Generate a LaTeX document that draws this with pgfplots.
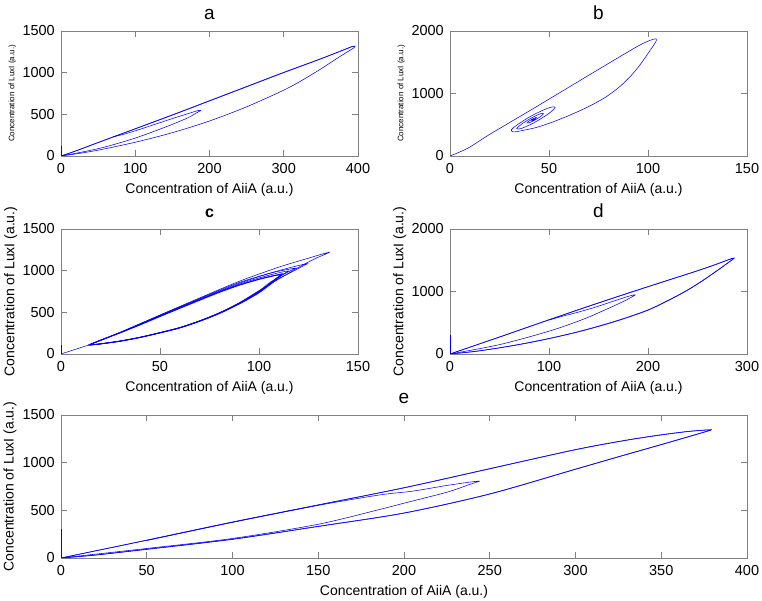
\documentclass[border=0pt]{standalone}
\usepackage{fontspec}
\setmainfont{Liberation Sans}
\usepackage{pgfplots}
\pgfplotsset{compat=1.18}

\pgfplotsset{
  panel/.style={
    scale only axis, anchor=south west,
    axis line style={draw=gray, line width=0.6pt},
    tick style={draw=gray, line width=0.6pt},
    tick align=inside, major tick length=6pt,
    /pgf/number format/assume math mode=true,
    /pgf/number format/1000 sep={},
    scaled ticks=false,
    tick label style={font=\fontsize{14.5}{16}\selectfont},
    xticklabel style={anchor=north, inner sep=0pt, yshift=-7pt},
    yticklabel style={anchor=east, inner sep=0pt, xshift=-6pt},
    title style={font=\fontsize{19}{22}\selectfont, at={(axis description cs:0.5,1)}, anchor=base, yshift=5pt},
    xlabel style={font=\fontsize{14}{16}\selectfont, at={(axis description cs:0.5,0)}, anchor=base, yshift=-38pt},
    ylabel style={font=\fontsize{14}{16}\selectfont, at={(axis description cs:-0.1566,0.5)}, anchor=base},
    xlabel={Concentration of AiiA (a.u.)},
    ylabel={Concentration of LuxI (a.u.)},
  },
  small/.style={width=297pt, height=125pt},
  traj/.style={blue, line width=0.55pt, mark=none, smooth, tension=0.5},
}

\begin{document}
\begin{tikzpicture}

% ---------------- a ----------------
\begin{axis}[panel, small, at={(61pt,445pt)},
    xmin=0, xmax=400, ymin=0, ymax=1500,
    xtick={0,100,200,300,400}, ytick={0,500,1000,1500},
    title={a},
    ylabel style={font=\fontsize{8}{9}\selectfont}]
\addplot[blue, line width=0.55pt] coordinates {(0,0) (0,115)};
\addplot[traj] coordinates {
 (0,0) (20,60) (50,160) (100,325) (150,490) (200,660) (250,830) (300,1000)
 (350,1165) (380,1270) (392,1312) (396,1318) (395,1302) (388,1262)
 (375,1190) (350,1045) (325,910) (300,790) (250,590) (200,420) (150,280)
 (100,165) (50,70) (20,25) (0,0)};
\addplot[traj] coordinates {
 (0,0) (20,62) (50,163) (100,328) (150,494) (200,664) (250,834) (300,1004)
 (350,1168) (380,1272) (392,1314) (395,1316)};
\addplot[traj] coordinates {
 (0,0) (30,50) (60,110) (100,215) (140,345) (170,455) (183,520) (188,545)
 (185,546) (170,505) (145,435) (115,345) (90,275) (75,240) (70,232) (72,236)};
\end{axis}

% ---------------- b ----------------
\begin{axis}[panel, small, at={(450pt,445pt)},
    xmin=0, xmax=150, ymin=0, ymax=2000,
    xtick={0,50,100,150}, ytick={0,1000,2000},
    title={b},
    ylabel style={font=\fontsize{8}{9}\selectfont}]
\addplot[traj] coordinates {
 (0,0) (9,125) (20,345) (40,720) (60,1100) (80,1480) (95,1760) (101,1850)
 (104,1875) (104.3,1855) (103,1780) (100,1640) (96,1460) (91,1270) (85,1090)
 (78,930) (70,790) (61,660) (52,545) (44,460) (37,410) (32,385)
 (31,420) (34,500) (41,640) (49.3,764) (53.1,781) (49.9,679) (42.8,539) (36.2,442)
 (33.7,438) (36.4,516) (41.5,615) (45.7,676) (47.2,676) (45.5,626) (42.3,565)
 (39.7,528) (38.9,530) (40,560) (41.8,595) (43.2,614) (43.7,613) (43.1,597)
 (42.1,578) (41.4,569) (41.2,569) (41.5,577) (42,587) (42,584)};
\end{axis}

% ---------------- c ----------------
\begin{axis}[panel, small, at={(61pt,247pt)},
    xmin=0, xmax=150, ymin=0, ymax=1500,
    xtick={0,50,100,150}, ytick={0,500,1000,1500},
    title={c}, title style={font=\fontsize{16}{19}\selectfont\bfseries}]
\addplot[blue, line width=0.55pt] coordinates {(0,0) (0,110)};
\addplot[blue, line width=0.55pt] coordinates {(0,0) (14,108)};
% transient loops
\addplot[traj] coordinates {
 (14,108) (30,262) (50,468) (70,672) (90,872) (110,1042) (125,1150) (132,1200)
 (135.5,1220) (134,1203) (128,1140) (120,1040) (110,900) (100,760) (90,615)
 (80,495) (70,398) (60,318) (50,257) (40,202) (30,157) (20,123) (14,108)};
\addplot[traj] coordinates {
 (14,108) (30,260) (50,465) (70,666) (90,858) (110,1000) (120,1062)
 (124.5,1085) (123,1066) (117,990) (108,880) (100,752) (90,612) (80,493)
 (70,397) (60,317) (50,256) (40,201) (30,156) (20,122) (14,108)};
\addplot[traj] coordinates {
 (14,108) (30,258) (50,461) (70,660) (90,848) (105,965) (113,1008)
 (118.5,1030) (117,1012) (112,950) (105,850) (100,756) (90,608) (80,492)
 (70,396) (60,316) (50,256) (40,200) (30,156) (20,121) (14,108)};
\addplot[traj] coordinates {
 (14,108) (30,257) (50,456) (70,652) (90,838) (105,945) (112,985)
 (115,998) (114,982) (110,930) (105,840) (100,748) (90,606) (80,491)
 (70,396) (60,316) (50,255) (40,200) (30,155) (20,121) (14,108)};
% limit cycle
\addplot[traj, line width=0.9pt] coordinates {
 (14,108) (20,165) (30,255) (40,350) (50,450) (60,548) (70,645) (80,740)
 (90,825) (100,895) (106,930) (110,950) (111.5,958) (111,948) (110,930)
 (107,870) (100,740) (90,605) (80,490) (70,395) (60,315) (50,255) (40,200)
 (30,155) (20,122) (16,110) (14,108)};
\addplot[traj] coordinates {
 (14,108) (20,168) (30,259) (40,354) (50,455) (60,553) (70,650) (80,745)
 (90,830) (100,900) (106,935) (110,955) (112,962) (111.5,950) (110.5,928)
 (107.5,866) (100,733) (90,598) (80,484) (70,390) (60,311) (50,251) (40,197)
 (30,152) (20,120) (16,109) (14,108)};
\end{axis}

% ---------------- d ----------------
\begin{axis}[panel, small, at={(450pt,247pt)},
    xmin=0, xmax=300, ymin=0, ymax=2000,
    xtick={0,100,200,300}, ytick={0,1000,2000},
    title={d}]
\addplot[blue, line width=0.55pt] coordinates {(0,0) (0,310)};
\addplot[traj] coordinates {
 (0,0) (50,270) (100,545) (150,815) (200,1075) (250,1330) (270,1440)
 (280,1500) (285,1528) (287,1533) (286,1518) (281,1460) (271,1345)
 (256,1180) (240,1020) (220,850) (200,700) (175,560) (150,440) (125,335)
 (100,245) (75,165) (50,97) (25,40) (0,0)};
\addplot[traj] coordinates {
 (0,0) (50,273) (100,549) (150,819) (200,1079) (250,1333) (270,1443)
 (280,1502) (285,1530) (287,1535) (286,1521) (281,1463) (271,1349)
 (256,1185) (240,1026) (220,856) (200,706) (175,566) (150,446) (125,340)
 (100,249) (75,169) (50,100) (25,42) (0,0)};
\addplot[traj] coordinates {
 (0,0) (50,150) (100,365) (134,552) (160,730) (175,840) (184,915) (187,944)
 (186,946) (180,922) (165,845) (145,740) (125,650) (114,606) (100,543)};
\end{axis}

% ---------------- e ----------------
\begin{axis}[panel, width=686pt, height=143pt, at={(61pt,43pt)},
    xmin=0, xmax=400, ymin=0, ymax=1500,
    xtick={0,50,...,400}, ytick={0,500,1000,1500},
    title={e},
    ylabel style={at={(axis description cs:-0.0692,0.5)}}]
\addplot[blue, line width=0.55pt] coordinates {(0,0) (0,300)};
\addplot[traj] coordinates {
 (0,0) (50,185) (100,375) (150,555) (200,735) (250,935) (300,1135) (330,1235)
 (350,1290) (365,1325) (375,1340) (379,1343) (377,1330) (368,1282) (350,1188)
 (325,1060) (300,930) (250,670) (200,470) (150,330) (100,195) (50,90) (20,30)
 (0,0)};
\addplot[traj] coordinates {
 (0,0) (50,188) (100,378) (150,558) (200,738) (250,938) (300,1138) (330,1238)
 (350,1293) (365,1327) (375,1342) (379,1345) (377,1332) (368,1285) (350,1191)
 (325,1063) (300,933) (250,673) (200,473) (150,333) (100,198) (50,93) (20,31)
 (0,0)};
\addplot[traj] coordinates {
 (0,0) (50,100) (100,205) (150,354) (186,510) (200,575) (225,690) (238,770)
 (243,800) (244,806) (240,800) (225,761) (205,701) (186,662) (150,552)
 (100,374) (50,184)};
\end{axis}

\pgfresetboundingbox
\path[use as bounding box] (0pt,0pt) rectangle (762pt,601pt);
\end{tikzpicture}
\end{document}
